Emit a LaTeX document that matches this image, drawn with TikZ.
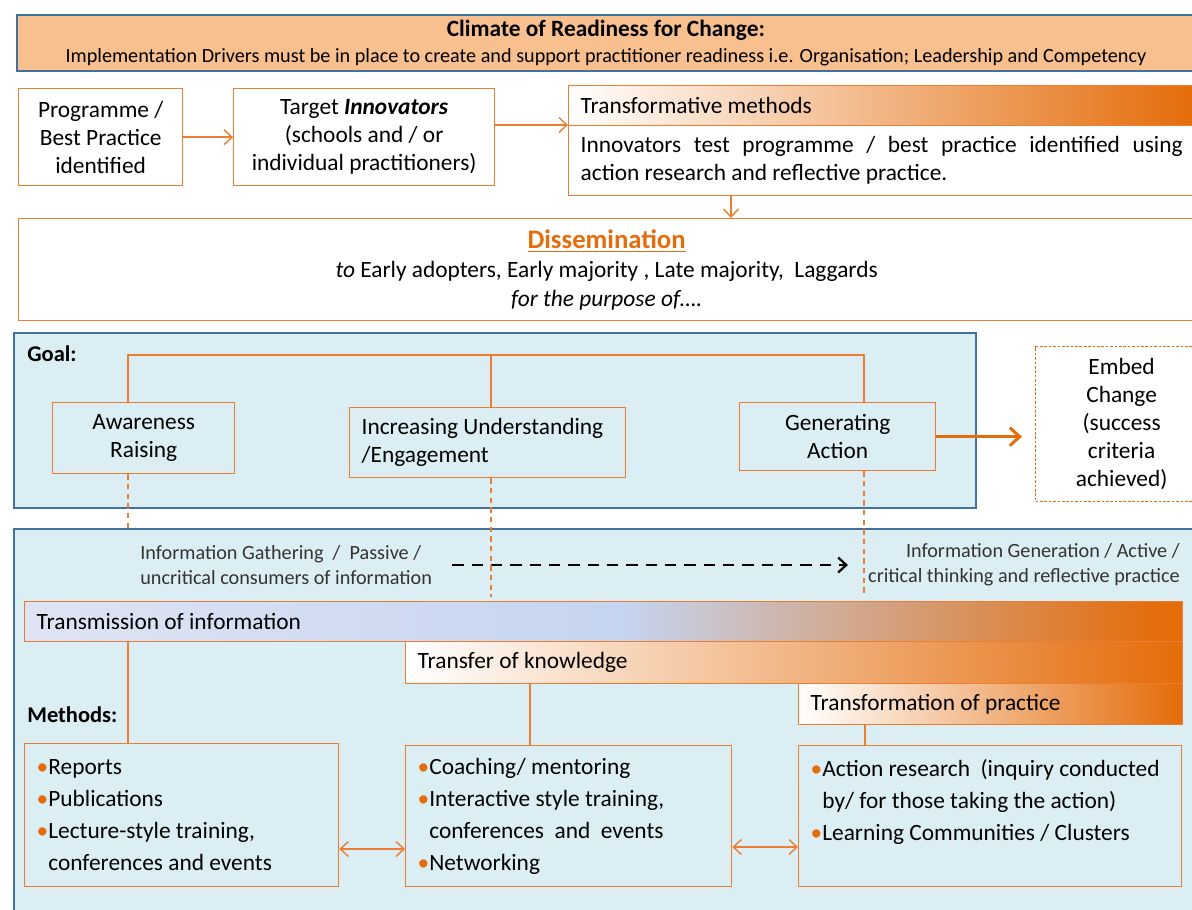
\documentclass[tikz,border=0pt]{standalone}
\usepackage{fontspec}
\setmainfont{Carlito}
\usepackage{tikz}
\usetikzlibrary{arrows.meta, calc, positioning, shadings}

\definecolor{orline}{HTML}{ED7D31}
\definecolor{ordark}{HTML}{E46C0A}
\definecolor{peach}{HTML}{F9C08F}
\definecolor{blueline}{HTML}{41719C}
\definecolor{paleblue}{HTML}{DAEEF3}
\definecolor{lavend}{HTML}{DFE4F4}
\definecolor{skyblue}{HTML}{C5D4EF}
\pgfdeclarehorizontalshading{transmitshade}{100bp}{color(0bp)=(lavend); color(25bp)=(lavend); color(51bp)=(skyblue); color(74bp)=(ordark); color(100bp)=(ordark)}

\newcommand{\obul}{\textcolor{ordark}{\textbullet}}
\newcommand{\nobul}{\phantom{\textbullet}}

\tikzset{
  obox/.style={draw=orline, line width=0.8pt, fill=white, anchor=north west, inner sep=0pt, align=center},
  lbox/.style={draw=orline, line width=0.8pt, anchor=north west, inner xsep=0.24cm, inner ysep=0pt, align=flush left},
  panel/.style={draw=blueline, line width=1.2pt, fill=paleblue, anchor=north west, inner sep=0pt},
  bar/.style={lbox, shade},
  olink/.style={draw=orline, line width=0.8pt},
  odash/.style={draw=orline, line width=0.7pt, dash pattern=on 3pt off 2.5pt},
  oarrow/.style={olink, -{Straight Barb[length=1.6mm,width=3mm]}},
  darrow/.style={olink, {Straight Barb[length=1.6mm,width=3mm]}-{Straight Barb[length=1.6mm,width=3mm]}},
  infotext/.style={inner sep=0pt, font=\fontsize{11.5}{14.2}\selectfont, text=black!80},
  listtext/.style={font=\fontsize{13.3}{18.2}\selectfont}
}

\begin{document}
\begin{tikzpicture}[x=0.02cm, y=-0.02cm, font=\fontsize{13.3}{16}\selectfont]
\clip (0,0) rectangle (1192,909);
\fill[white] (0,0) rectangle (1192,909);

%.... readiness banner and innovators row
\node[panel, fill=peach, minimum width=23.56cm, minimum height=1.12cm, align=center, font=\fontsize{11.5}{14.6}\selectfont] (climate) at (16,14)
  {{\fontsize{13.3}{14.6}\selectfont\bfseries Climate of Readiness for Change:}\\
   Implementation Drivers must be in place to create and support practitioner readiness i.e. Organisation; Leadership and Competency};

\node[obox, minimum width=3.28cm, minimum height=1.94cm] (prog) at (18,88) {Programme /\\Best Practice\\identified};
\node[obox, minimum width=5.22cm, minimum height=1.94cm] (target) at (233,88) {Target \textbf{\textit{Innovators}}\\(schools and / or\\individual practitioners)};
\node[bar, left color=white, right color=ordark, minimum width=12.52cm, minimum height=0.8cm, text width=12.04cm] (transhead) at (568,85) {Transformative methods};
\node[lbox, fill=white, minimum width=12.52cm, minimum height=1.4cm, text width=12.04cm, align=justify] (transbody) at (568,125)
  {Innovators test programme / best practice identified using\linebreak action research and reflective practice.};
\node[obox, minimum width=23.52cm, minimum height=2.04cm, font=\fontsize{13.3}{16.5}\selectfont] (dissem) at (18,218)
  {{\fontsize{15.2}{16.5}\selectfont\bfseries\color{ordark}\underline{Dissemination}}\\
   \textit{to} Early adopters, Early majority , Late majority,\ \ Laggards\\
   \textit{for the purpose of….}};

\draw[oarrow] (prog) -- (target);
\draw[oarrow] (target.east |- transbody.north west) -- (transbody.north west);
\draw[oarrow] (transbody.south -| 731,0) -- (dissem.north -| 731,0);

%.... goals
\node[panel, minimum width=19.24cm, minimum height=3.5cm] (goalpanel) at (13,332) {};
\node[anchor=west, inner sep=0pt, font=\fontsize{12.8}{16}\selectfont\bfseries] (goallbl) at (27,354) {Goal:};
\node[obox, fill=none, minimum width=3.64cm, minimum height=1.42cm] (aware) at (52,402) {Awareness\\Raising};
\node[lbox, minimum width=5.52cm, minimum height=1.4cm, text width=5.04cm] (incr) at (349,407) {Increasing Understanding\\/Engagement};
\node[obox, fill=none, minimum width=3.92cm, minimum height=1.36cm] (gener) at (739,402) {Generating\\Action};
\node[obox, draw=ordark, dash pattern=on 1.5pt off 1pt, line width=0.7pt, minimum width=3.44cm, minimum height=3.1cm] (embed) at (1035,346)
  {Embed\\Change\\(success\\criteria\\achieved)};

\coordinate (ga) at (128,355);
\coordinate (gb) at (491,355);
\coordinate (gc) at (864,355);
\draw[olink] (ga |- aware.north) -- (ga) -- (gc) -- (gc |- gener.north);
\draw[olink] (gb) -- (gb |- incr.north);
\draw[draw=ordark, line width=1.7pt, -{Straight Barb[length=2mm,width=3.6mm]}, shorten >=0.26cm] (gener.east) -- (gener.east -| embed.west);

%.... methods
\node[panel, minimum width=23.62cm, minimum height=7.68cm] (methpanel) at (13,528) {};
\node[infotext, anchor=west, align=left] (infoL) at (140,565) {Information Gathering\ \ /\ \ Passive /\\uncritical consumers of information};
\node[infotext, anchor=east, align=right] (infoR) at (1180,565) {Information Generation / Active /\\critical thinking and reflective practice};
\draw[line width=1.3pt, dash pattern=on 6.5pt off 4.5pt, -{Straight Barb[length=1.6mm,width=3mm]}, shorten <=0.4cm, shorten >=0.4cm] (infoL.east) -- (infoR.west);

\draw[odash] (ga |- aware.south) -- (ga |- 0,532);
\draw[odash] (gb |- incr.south) -- (gb |- 0,597);
\draw[odash] (gc |- gener.south) -- (gc |- 0,597);

\node[bar, shading=transmitshade, minimum width=23.16cm, minimum height=0.8cm, text width=22.68cm] (transmit) at (24,601) {Transmission of information};
\node[bar, left color=white, right color=ordark, minimum width=15.54cm, minimum height=0.84cm, text width=15.06cm] (transfer) at (405,641) {Transfer of knowledge};
\node[bar, left color=white, right color=ordark, minimum width=7.68cm, minimum height=0.82cm, text width=7.2cm] (transform) at (798,683) {Transformation of practice};

\node[anchor=west, inner sep=0pt, font=\fontsize{12.8}{16}\selectfont\bfseries] (methlbl) at (27,715) {Methods:};

\node[lbox, listtext, minimum width=6.28cm, minimum height=2.86cm, text width=5.8cm] (m1) at (24,743)
  {\obul Reports\\\obul Publications\\\obul Lecture-style training,\\\nobul conferences and events};
\node[lbox, listtext, minimum width=6.52cm, minimum height=2.82cm, text width=6.04cm] (m2) at (405,745)
  {\obul Coaching/ mentoring\\\obul Interactive style training,\\\nobul conferences\ \ and\ \ events\\\obul Networking};
\node[lbox, listtext, minimum width=7.66cm, minimum height=2.82cm, text width=7.18cm] (m3) at (798,745)
  {\obul Action research\ \ (inquiry conducted\\\nobul by/ for those taking the action)\\\obul Learning Communities / Clusters\\\mbox{}};

\draw[olink] (ga |- transmit.south) -- (ga |- m1.north);
\draw[olink] (transfer.south -| 530,0) -- (m2.north -| 530,0);
\draw[olink] (transform.south -| 865,0) -- (m3.north -| 865,0);
\draw[darrow] (m1.east |- 0,849) -- (m2.west |- 0,849);
\draw[darrow] (m2.east |- 0,847) -- (m3.west |- 0,847);
\end{tikzpicture}
\end{document}
